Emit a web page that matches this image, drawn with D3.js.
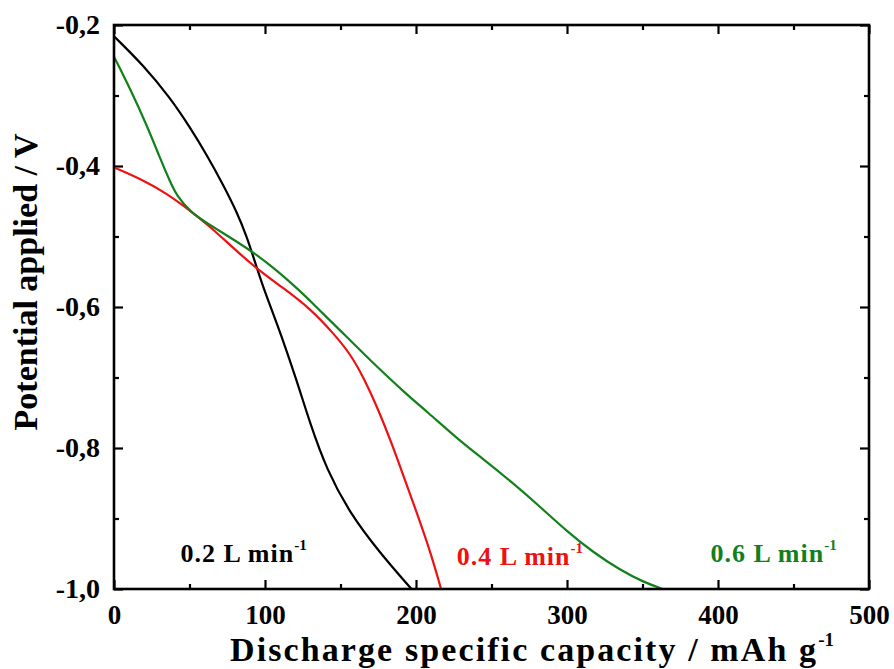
<!DOCTYPE html>
<html>
<head>
<meta charset="utf-8">
<script src="https://cdn.jsdelivr.net/npm/d3@7"></script>
<style>
  html, body { margin: 0; padding: 0; background: #fff; }
  svg { display: block; }
  text { font-family: "Liberation Serif", "Times New Roman", serif; font-weight: bold; }
</style>
</head>
<body>
<script>
// ---- data ----
const blackX = [0, 19.4, 37.1, 50.3, 61.4, 72.4, 81.3, 87.9, 92.3, 97.8, 105.5, 109.9, 121, 129.8, 140.9, 156.3, 176.2, 197];
const blackY = [-0.216, -0.257, -0.303, -0.345, -0.384, -0.427, -0.465, -0.500, -0.529, -0.566, -0.610, -0.635, -0.704, -0.765, -0.831, -0.893, -0.949, -1.0];

const redX = [0, 19.4, 34.9, 50.3, 63.6, 76.8, 94.5, 112.1, 129.8, 145.2, 156.3, 165.1, 176.2, 187.2, 198.2, 209.3, 216.6];
const redY = [-0.402, -0.420, -0.439, -0.463, -0.486, -0.512, -0.546, -0.573, -0.602, -0.637, -0.666, -0.699, -0.751, -0.812, -0.878, -0.945, -1.0];

const greenX = [0, 10.6, 21.7, 30.5, 37.1, 41.5, 50.3, 63.6, 81.3, 94.5, 107.7, 121, 129.8, 149.7, 171.7, 193.8, 207.1, 229.1, 242.4, 264.4, 282, 299.8, 317.4, 335.1, 350.5, 363.3];
const greenY = [-0.245, -0.290, -0.342, -0.389, -0.422, -0.442, -0.465, -0.484, -0.507, -0.526, -0.548, -0.573, -0.591, -0.633, -0.680, -0.724, -0.748, -0.790, -0.812, -0.850, -0.883, -0.918, -0.948, -0.973, -0.990, -1.0];

const seriesNames = ["0.2 L min", "0.4 L min", "0.6 L min"];
const seriesColors = ["#000000", "#ee1111", "#12801a"];
const labelX = [44, 227, 395];
const labelY = [-0.962, -0.966, -0.962];

const xMajorTicks = [0, 100, 200, 300, 400, 500];
const xMinorTicks = [50, 150, 250, 350, 450];
const yMajorTicks = [-0.2, -0.4, -0.6, -0.8, -1.0];
const yMinorTicks = [-0.3, -0.5, -0.7, -0.9];

const xTitle = "Discharge specific capacity / mAh g";
const yTitle = "Potential applied / V";

// ---- layout ----
const W = 894, H = 669;
const L = 114, R = 869, T = 25, B = 589;

const svg = d3.select("body").append("svg").attr("width", W).attr("height", H)
  .style("background", "#fff");

const x = d3.scaleLinear().domain([0, 500]).range([L, R]);
const y = d3.scaleLinear().domain([-1.0, -0.2]).range([B, T]);

const fmtY = d => d.toFixed(1).replace(".", ",");

function styleAxis(size) {
  return g => {
    g.selectAll(".domain").remove();
    g.selectAll(".tick line").attr("stroke", "#000").attr("stroke-width", 2.2);
    g.selectAll(".tick text").attr("fill", "#000").style("font-size", size + "px")
      .style("font-family", '"Liberation Serif", serif').style("font-weight", "bold");
  };
}

// minor ticks
svg.append("g").attr("transform", `translate(0,${B})`)
  .call(d3.axisBottom(x).tickValues(xMinorTicks).tickSizeInner(-5).tickSizeOuter(0).tickFormat(""))
  .call(styleAxis(27));
svg.append("g").attr("transform", `translate(0,${T})`)
  .call(d3.axisTop(x).tickValues(xMinorTicks).tickSizeInner(-5).tickSizeOuter(0).tickFormat(""))
  .call(styleAxis(27));
svg.append("g").attr("transform", `translate(${L},0)`)
  .call(d3.axisLeft(y).tickValues(yMinorTicks).tickSizeInner(-5).tickSizeOuter(0).tickFormat(""))
  .call(styleAxis(27));
svg.append("g").attr("transform", `translate(${R},0)`)
  .call(d3.axisRight(y).tickValues(yMinorTicks).tickSizeInner(-5).tickSizeOuter(0).tickFormat(""))
  .call(styleAxis(27));

// major ticks
svg.append("g").attr("transform", `translate(0,${B})`)
  .call(d3.axisBottom(x).tickValues(xMajorTicks).tickSizeInner(-9).tickSizeOuter(0).tickPadding(16).tickFormat(d3.format("d")))
  .call(styleAxis(27));
svg.append("g").attr("transform", `translate(0,${T})`)
  .call(d3.axisTop(x).tickValues(xMajorTicks).tickSizeInner(-9).tickSizeOuter(0).tickFormat(""))
  .call(styleAxis(27));
svg.append("g").attr("transform", `translate(${L},0)`)
  .call(d3.axisLeft(y).tickValues(yMajorTicks).tickSizeInner(-9).tickSizeOuter(0).tickPadding(14).tickFormat(fmtY))
  .call(styleAxis(28));
svg.append("g").attr("transform", `translate(${R},0)`)
  .call(d3.axisRight(y).tickValues(yMajorTicks).tickSizeInner(-9).tickSizeOuter(0).tickFormat(""))
  .call(styleAxis(27));

// series
const series = [
  blackX.map((v, i) => [v, blackY[i]]),
  redX.map((v, i) => [v, redY[i]]),
  greenX.map((v, i) => [v, greenY[i]])
];
const line = d3.line().x(d => x(d[0])).y(d => y(d[1])).curve(d3.curveBasis);
const clipId = "plotclip";
svg.append("clipPath").attr("id", clipId).append("rect")
  .attr("x", L).attr("y", T).attr("width", R - L).attr("height", B - T);
svg.append("g").attr("clip-path", `url(#${clipId})`)
  .selectAll("path").data(series).join("path")
  .attr("d", line)
  .attr("fill", "none")
  .attr("stroke", (d, i) => seriesColors[i])
  .attr("stroke-width", 2.2);

// frame
svg.append("rect").attr("x", L).attr("y", T).attr("width", R - L).attr("height", B - T)
  .attr("fill", "none").attr("stroke", "#000").attr("stroke-width", 2.6);

// series labels
seriesNames.forEach((name, i) => {
  const t = svg.append("text")
    .attr("x", x(labelX[i])).attr("y", y(labelY[i]))
    .attr("fill", seriesColors[i])
    .style("font-size", "26px").style("letter-spacing", "1px");
  t.append("tspan").text(name);
  t.append("tspan").attr("dy", -12).style("font-size", "15px").style("letter-spacing", "0px").text("-1");
});

// axis titles
const xt = svg.append("text").attr("x", 230).attr("y", 661)
  .attr("fill", "#000").style("font-size", "34px").style("letter-spacing", "2.1px");
xt.append("tspan").text(xTitle);
xt.append("tspan").attr("dy", -15).style("font-size", "19px").style("letter-spacing", "0px").text("-1");

svg.append("text")
  .attr("transform", `translate(37,${282}) rotate(-90)`)
  .attr("text-anchor", "middle")
  .attr("fill", "#000").style("font-size", "34px")
  .text(yTitle);
</script>
</body>
</html>
